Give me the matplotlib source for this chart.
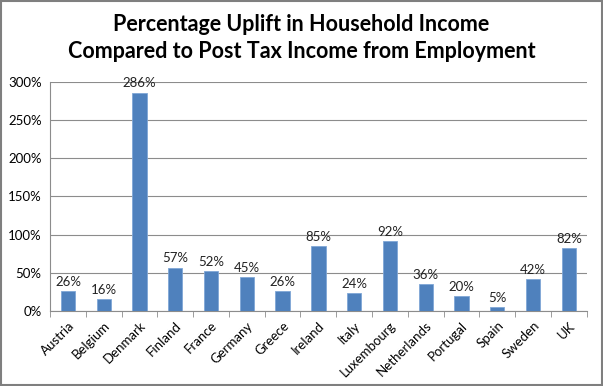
import matplotlib.pyplot as plt
import numpy as np
from matplotlib.ticker import FuncFormatter

countries = ['Austria', 'Belgium', 'Denmark', 'Finland', 'France', 'Germany', 'Greece',
             'Ireland', 'Italy', 'Luxembourg', 'Netherlands', 'Portugal', 'Spain', 'Sweden', 'UK']
uplift = [26, 16, 286, 57, 52, 45, 26, 85, 24, 92, 36, 20, 5, 42, 82]

plt.rcParams['font.family'] = ['Lato', 'DejaVu Sans']

fig = plt.figure(figsize=(6.03, 3.86), dpi=100)
ax = fig.add_axes([0.083, 0.194, 0.89, 0.594])

x = np.arange(len(countries))
ax.bar(x, uplift, width=0.4, color='#4F81BD', edgecolor='#7FA6D6', linewidth=0.6, zorder=3)
for xi, v in zip(x, uplift):
    ax.text(xi, v + 4, f'{v}%', ha='center', va='bottom', fontsize=9.5, color='#222222')

ax.set_xlim(-0.5, len(countries) - 0.5)
ax.set_ylim(0, 300)
ax.set_yticks(range(0, 301, 50))
ax.yaxis.set_major_formatter(FuncFormatter(lambda v, p: f'{int(v)}%'))
ax.grid(axis='y', color='#8C8C8C', linewidth=0.8, zorder=0)

ax.set_xticks(x)
ax.set_xticklabels(countries, rotation=45, ha='right', rotation_mode='anchor', fontsize=9.5)
ax.set_xticks(np.arange(-0.5, len(countries), 1), minor=True)
ax.tick_params(axis='x', which='major', length=0, pad=6)
ax.tick_params(axis='x', which='minor', length=4, color='#8C8C8C')
ax.tick_params(axis='y', length=0, labelsize=9.5, pad=6)

for s in ['top', 'right']:
    ax.spines[s].set_visible(False)
ax.spines['left'].set_color('#8C8C8C')
ax.spines['bottom'].set_color('#8C8C8C')

fig.text(0.5, 0.965, 'Percentage Uplift in Household Income\nCompared to Post Tax Income from Employment',
         ha='center', va='top', fontsize=15.5, fontweight='bold', linespacing=1.4)

fig.patches.append(plt.Rectangle((0.002, 0.003), 0.996, 0.994, transform=fig.transFigure,
                                 fill=False, edgecolor='#7F7F7F', linewidth=1.5))

fig.savefig('out.png', dpi=100)
